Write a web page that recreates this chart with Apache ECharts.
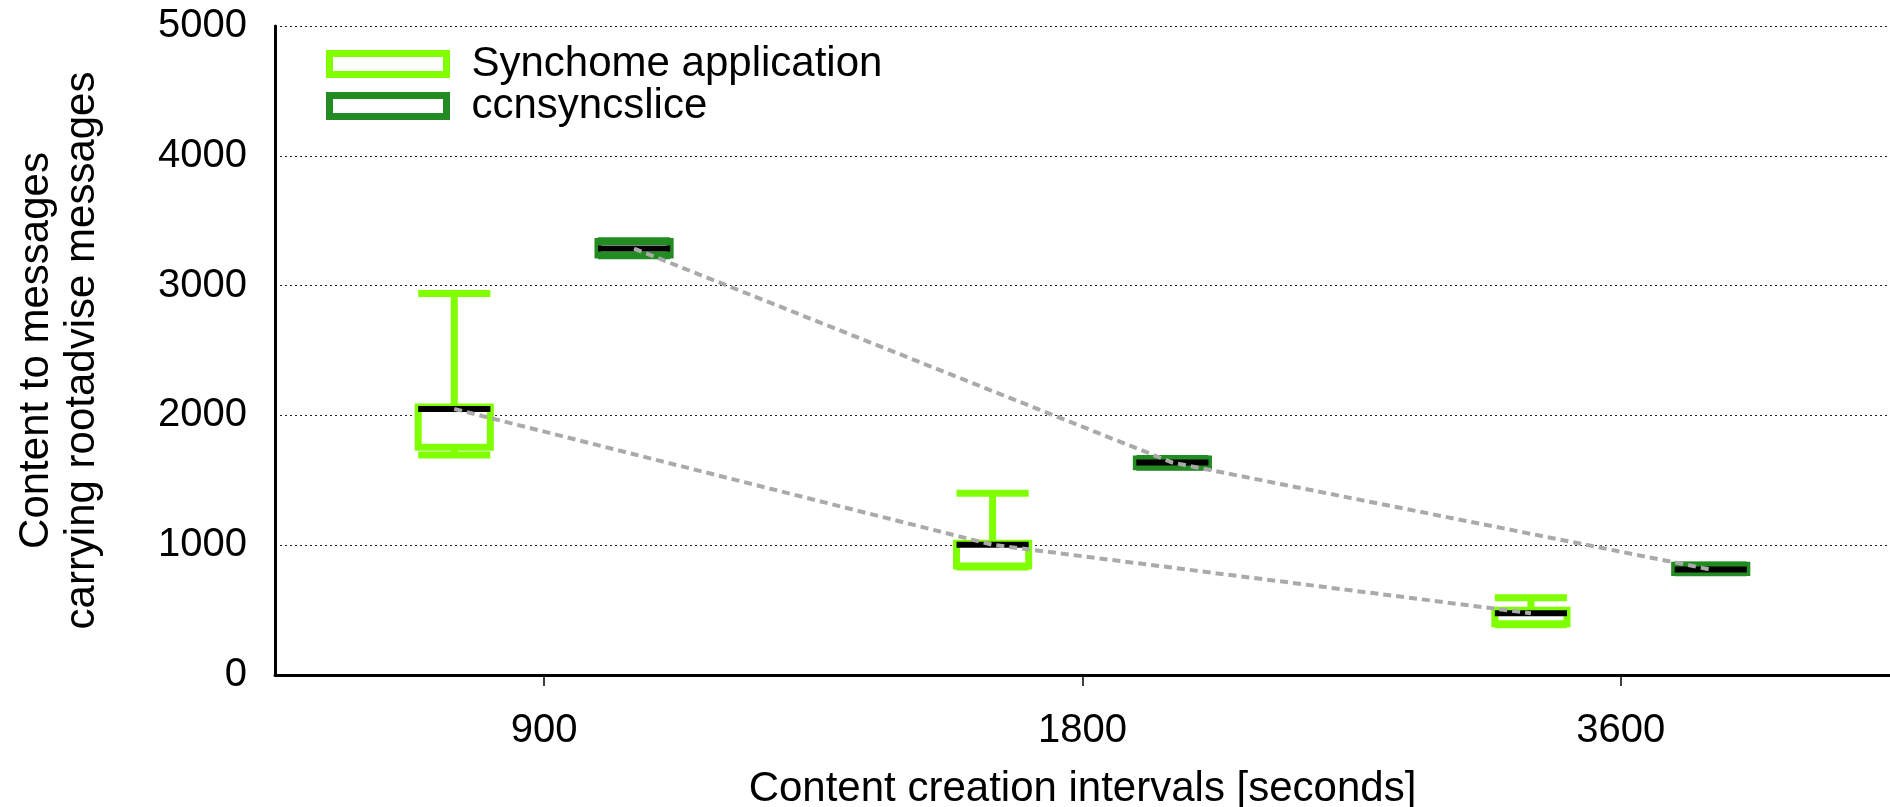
<!DOCTYPE html>
<html>
<head>
<meta charset="utf-8">
<script src="https://cdn.jsdelivr.net/npm/echarts@6/dist/echarts.min.js"></script>
<style>
  html, body { margin: 0; padding: 0; background: #fff; }
  #chart { width: 1890px; height: 807px; }
</style>
</head>
<body>
<div id="chart"></div>
<script>
// Content creation intervals (category axis)
const intervals = ['900', '1800', '3600'];
const yTicks = [0, 1000, 2000, 3000, 4000, 5000];

// Per interval: [min, lower quartile, median, upper quartile, max]
const synchomeStats = [
  [1695, 1755, 2050, 2065, 2940],
  [832, 840, 1003, 1015, 1400],
  [388, 395, 476, 498, 595]
];
const ccnsyncsliceStats = [
  [3230, 3235, 3285, 3340, 3345],
  [1600, 1605, 1637, 1665, 1668],
  [788, 790, 812, 845, 848]
];

const seriesNames = ['Synchome application', 'ccnsyncslice'];
const seriesColors = ['#7FFF00', '#228B22'];
const groupOffset = [-0.167, 0.167];   // position inside each category band
const boxWidth = 0.134;                // fraction of one category band

function boxData(stats) {
  return stats.map((s, i) => [i].concat(s));
}
function medianLine(stats, off) {
  return stats.map((s, i) => [i + off, s[2]]);
}

function makeRenderer(color, off) {
  return function (params, api) {
    const i = api.value(0);
    const cx = api.coord([i + off, 0])[0];
    const hw = api.size([boxWidth, 0])[0] / 2;
    const yMin = api.coord([i, api.value(1)])[1];
    const yQ1 = api.coord([i, api.value(2)])[1];
    const yMed = api.coord([i, api.value(3)])[1];
    const yQ3 = api.coord([i, api.value(4)])[1];
    const yMax = api.coord([i, api.value(5)])[1];
    const green = { stroke: color, lineWidth: 7, fill: null };
    return {
      type: 'group',
      children: [
        { type: 'line', shape: { x1: cx, y1: yQ3, x2: cx, y2: yMax }, style: green },
        { type: 'line', shape: { x1: cx, y1: yQ1, x2: cx, y2: yMin }, style: green },
        { type: 'line', shape: { x1: cx - hw, y1: yMax, x2: cx + hw, y2: yMax }, style: green },
        { type: 'line', shape: { x1: cx - hw, y1: yMin, x2: cx + hw, y2: yMin }, style: green },
        { type: 'rect', shape: { x: cx - hw, y: yQ3, width: 2 * hw, height: yQ1 - yQ3 },
          style: { stroke: color, lineWidth: 7, fill: '#fff' } },
        { type: 'line', shape: { x1: cx - hw, y1: yMed, x2: cx + hw, y2: yMed },
          style: { stroke: '#000', lineWidth: 6 } }
      ]
    };
  };
}

const chart = echarts.init(document.getElementById('chart'), null, { renderer: 'canvas' });
const font = 'Liberation Sans, Arial, Helvetica, sans-serif';

chart.setOption({
  animation: false,
  backgroundColor: '#fff',
  textStyle: { fontFamily: font },
  grid: { left: 275, right: 0, top: 26, bottom: 132, containLabel: false, outerBoundsMode: 'none' },
  legend: {
    orient: 'vertical',
    left: 321,
    top: 38,
    itemWidth: 117,
    itemHeight: 21,
    itemGap: 0,
    textStyle: { fontSize: 42, color: '#000', lineHeight: 42, padding: [0, 0, 0, 20], fontFamily: font },
    data: seriesNames.map((n, k) => ({
      name: n,
      icon: 'rect',
      itemStyle: { color: '#fff', borderColor: seriesColors[k], borderWidth: 7 }
    }))
  },
  xAxis: [
    {
      type: 'category',
      data: intervals,
      boundaryGap: true,
      name: 'Content creation intervals [seconds]',
      nameLocation: 'middle',
      nameGap: 93,
      nameTextStyle: { fontSize: 42, color: '#000', fontFamily: font },
      axisLine: { onZero: false, lineStyle: { color: '#000', width: 3 } },
      axisTick: { show: true, alignWithLabel: true, length: 11, lineStyle: { color: '#000', width: 1.5 } },
      axisLabel: { fontSize: 40, color: '#000', margin: 36, fontFamily: font },
      splitLine: { show: false }
    },
    {
      type: 'value',
      min: -0.5,
      max: 2.5,
      show: false
    }
  ],
  yAxis: {
    type: 'value',
    min: yTicks[0],
    max: yTicks[yTicks.length - 1],
    interval: 1000,
    name: 'Content to messages\ncarrying rootadvise messages',
    nameLocation: 'middle',
    nameRotate: 90,
    nameGap: 170,
    nameTextStyle: { fontSize: 42, color: '#000', lineHeight: 46, fontFamily: font },
    axisLine: { show: true, onZero: false, lineStyle: { color: '#000', width: 3 } },
    axisTick: { show: false },
    axisLabel: { fontSize: 40, color: '#000', margin: 28, fontFamily: font, formatter: v => String(v) },
    splitLine: { show: true, lineStyle: { color: '#222', width: 1, type: [2, 3] } }
  },
  series: [
    {
      name: seriesNames[0],
      type: 'custom',
      xAxisIndex: 1,
      renderItem: makeRenderer(seriesColors[0], groupOffset[0]),
      encode: { x: 0, y: [1, 2, 3, 4, 5] },
      data: boxData(synchomeStats),
      z: 2
    },
    {
      name: seriesNames[1],
      type: 'custom',
      xAxisIndex: 1,
      renderItem: makeRenderer(seriesColors[1], groupOffset[1]),
      encode: { x: 0, y: [1, 2, 3, 4, 5] },
      data: boxData(ccnsyncsliceStats),
      z: 2
    },
    {
      name: 'synchome-median',
      type: 'line',
      xAxisIndex: 1,
      data: medianLine(synchomeStats, groupOffset[0]),
      symbol: 'none',
      lineStyle: { color: '#aaa', width: 4, type: [8, 5] },
      z: 5
    },
    {
      name: 'ccnsyncslice-median',
      type: 'line',
      xAxisIndex: 1,
      data: medianLine(ccnsyncsliceStats, groupOffset[1]),
      symbol: 'none',
      lineStyle: { color: '#aaa', width: 4, type: [8, 5] },
      z: 5
    }
  ]
});
</script>
</body>
</html>
